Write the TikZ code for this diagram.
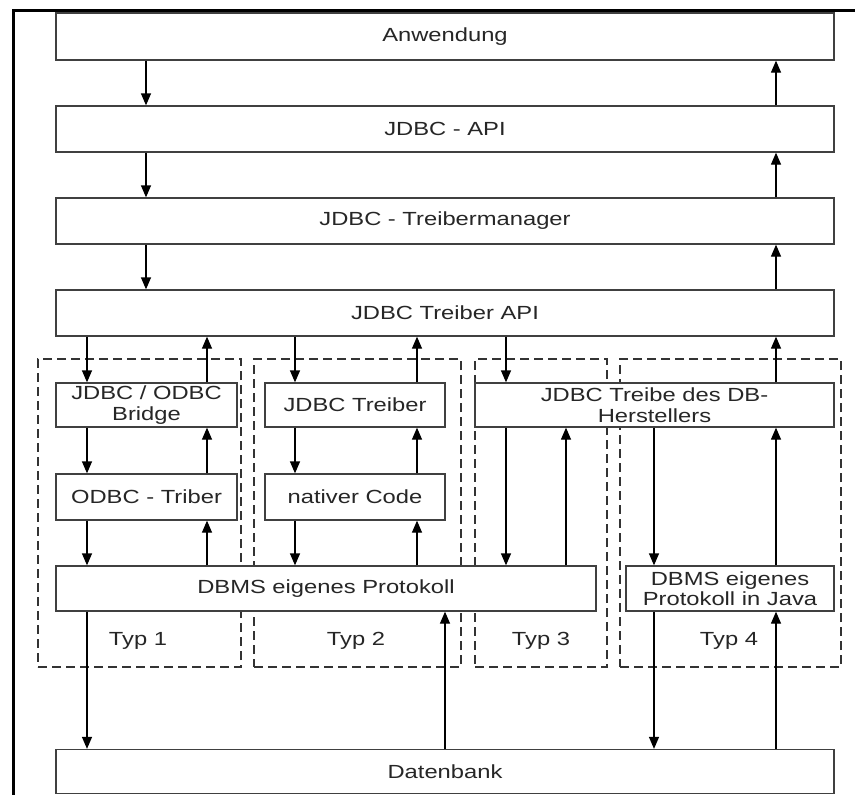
\documentclass[tikz,border=0pt]{standalone}
\usepackage{fontspec}
\setmainfont[FakeStretch=1.25]{Liberation Sans}
\usetikzlibrary{arrows.meta}

\begin{document}
\begin{tikzpicture}[x=1pt,y=-1pt,
  box/.style={draw=black!75, fill=white, line width=1.3pt, align=center, inner sep=0pt, font=\fontsize{19}{20.5}\selectfont, text=black!85},
  typbox/.style={draw=black!80, line width=1.2pt, dash pattern=on 9pt off 5pt, inner sep=0pt},
  typlabel/.style={inner sep=0pt, font=\fontsize{19}{20.5}\selectfont, text=black!85},
  arr/.style={-{Triangle[length=12pt,width=10pt]}, line width=1.3pt}]
\useasboundingbox (0,0) rectangle (855,795);
% frame
\draw[line width=3.2pt] (13.4,795) -- (13.4,10.7) -- (855,10.7);
% columns of the connectors
\coordinate (cl) at (146,0);
\coordinate (cr) at (776,0);
\coordinate (c1d) at (87,0);
\coordinate (c1u) at (207,0);
\coordinate (c2d) at (295,0);
\coordinate (c2u) at (417,0);
\coordinate (c3d) at (506,0);
\coordinate (c3u) at (566,0);
\coordinate (c4d) at (654,0);
\coordinate (cdb) at (445,0);
% driver types
\node[typbox, minimum width=203pt, minimum height=308pt] (typ1) at (139.5,513) {};
\node[typbox, minimum width=207pt, minimum height=308pt] (typ2) at (357.5,513) {};
\node[typbox, minimum width=132pt, minimum height=308pt] (typ3) at (541,513) {};
\node[typbox, minimum width=221pt, minimum height=308pt] (typ4) at (730.5,513) {};
\node[typlabel] (t1) at (138,641) {Typ 1};
\node[typlabel] (t2) at (356,641) {Typ 2};
\node[typlabel] (t3) at (541,641) {Typ 3};
\node[typlabel] (t4) at (729,641) {Typ 4};
% layers
\node[box, minimum width=778pt, minimum height=47pt] (anw) at (445,36.5) {Anwendung};
\node[box, minimum width=778pt, minimum height=46pt] (api) at (445,129) {JDBC - API};
\node[box, minimum width=778pt, minimum height=46pt] (mgr) at (445,221) {JDBC - Treibermanager};
\node[box, minimum width=778pt, minimum height=46pt] (tapi) at (445,313) {JDBC Treiber API};
\node[box, minimum width=181pt, minimum height=44pt] (bridge) at (146.5,405) {JDBC / ODBC\\Bridge};
\node[box, minimum width=181pt, minimum height=46pt] (odbc) at (146.5,497) {ODBC - Triber};
\node[box, minimum width=180pt, minimum height=44pt] (jdbct) at (355,405) {JDBC Treiber};
\node[box, minimum width=180pt, minimum height=46pt] (nativ) at (355,497) {nativer Code};
\node[box, minimum width=359pt, minimum height=44pt] (herst) at (654.5,405) {JDBC Treibe des DB-\\Herstellers};
\node[box, minimum width=540pt, minimum height=45pt] (dbms) at (326,588.5) {DBMS eigenes Protokoll};
\node[box, minimum width=208pt, minimum height=45pt] (java) at (730,588.5) {DBMS eigenes\\Protokoll in Java};
\node[box, minimum width=778pt, minimum height=44pt] (db) at (445,771.5) {Datenbank};
% down the layers
\draw[arr] (anw.south -| cl) -- (api.north -| cl);
\draw[arr] (api.south -| cl) -- (mgr.north -| cl);
\draw[arr] (mgr.south -| cl) -- (tapi.north -| cl);
\draw[arr] (tapi.south -| c1d) -- (bridge.north -| c1d);
\draw[arr] (bridge.south -| c1d) -- (odbc.north -| c1d);
\draw[arr] (odbc.south -| c1d) -- (dbms.north -| c1d);
\draw[arr] (dbms.south -| c1d) -- (db.north -| c1d);
\draw[arr] (tapi.south -| c2d) -- (jdbct.north -| c2d);
\draw[arr] (jdbct.south -| c2d) -- (nativ.north -| c2d);
\draw[arr] (nativ.south -| c2d) -- (dbms.north -| c2d);
\draw[arr] (tapi.south -| c3d) -- (herst.north -| c3d);
\draw[arr] (herst.south -| c3d) -- (dbms.north -| c3d);
\draw[arr] (herst.south -| c4d) -- (java.north -| c4d);
\draw[arr] (java.south -| c4d) -- (db.north -| c4d);
% back up
\draw[arr] (db.north -| cdb) -- (dbms.south -| cdb);
\draw[arr] (dbms.north -| c1u) -- (odbc.south -| c1u);
\draw[arr] (odbc.north -| c1u) -- (bridge.south -| c1u);
\draw[arr] (bridge.north -| c1u) -- (tapi.south -| c1u);
\draw[arr] (dbms.north -| c2u) -- (nativ.south -| c2u);
\draw[arr] (nativ.north -| c2u) -- (jdbct.south -| c2u);
\draw[arr] (jdbct.north -| c2u) -- (tapi.south -| c2u);
\draw[arr] (dbms.north -| c3u) -- (herst.south -| c3u);
\draw[arr] (db.north -| cr) -- (java.south -| cr);
\draw[arr] (java.north -| cr) -- (herst.south -| cr);
\draw[arr] (herst.north -| cr) -- (tapi.south -| cr);
\draw[arr] (tapi.north -| cr) -- (mgr.south -| cr);
\draw[arr] (mgr.north -| cr) -- (api.south -| cr);
\draw[arr] (api.north -| cr) -- (anw.south -| cr);
\end{tikzpicture}
\end{document}
